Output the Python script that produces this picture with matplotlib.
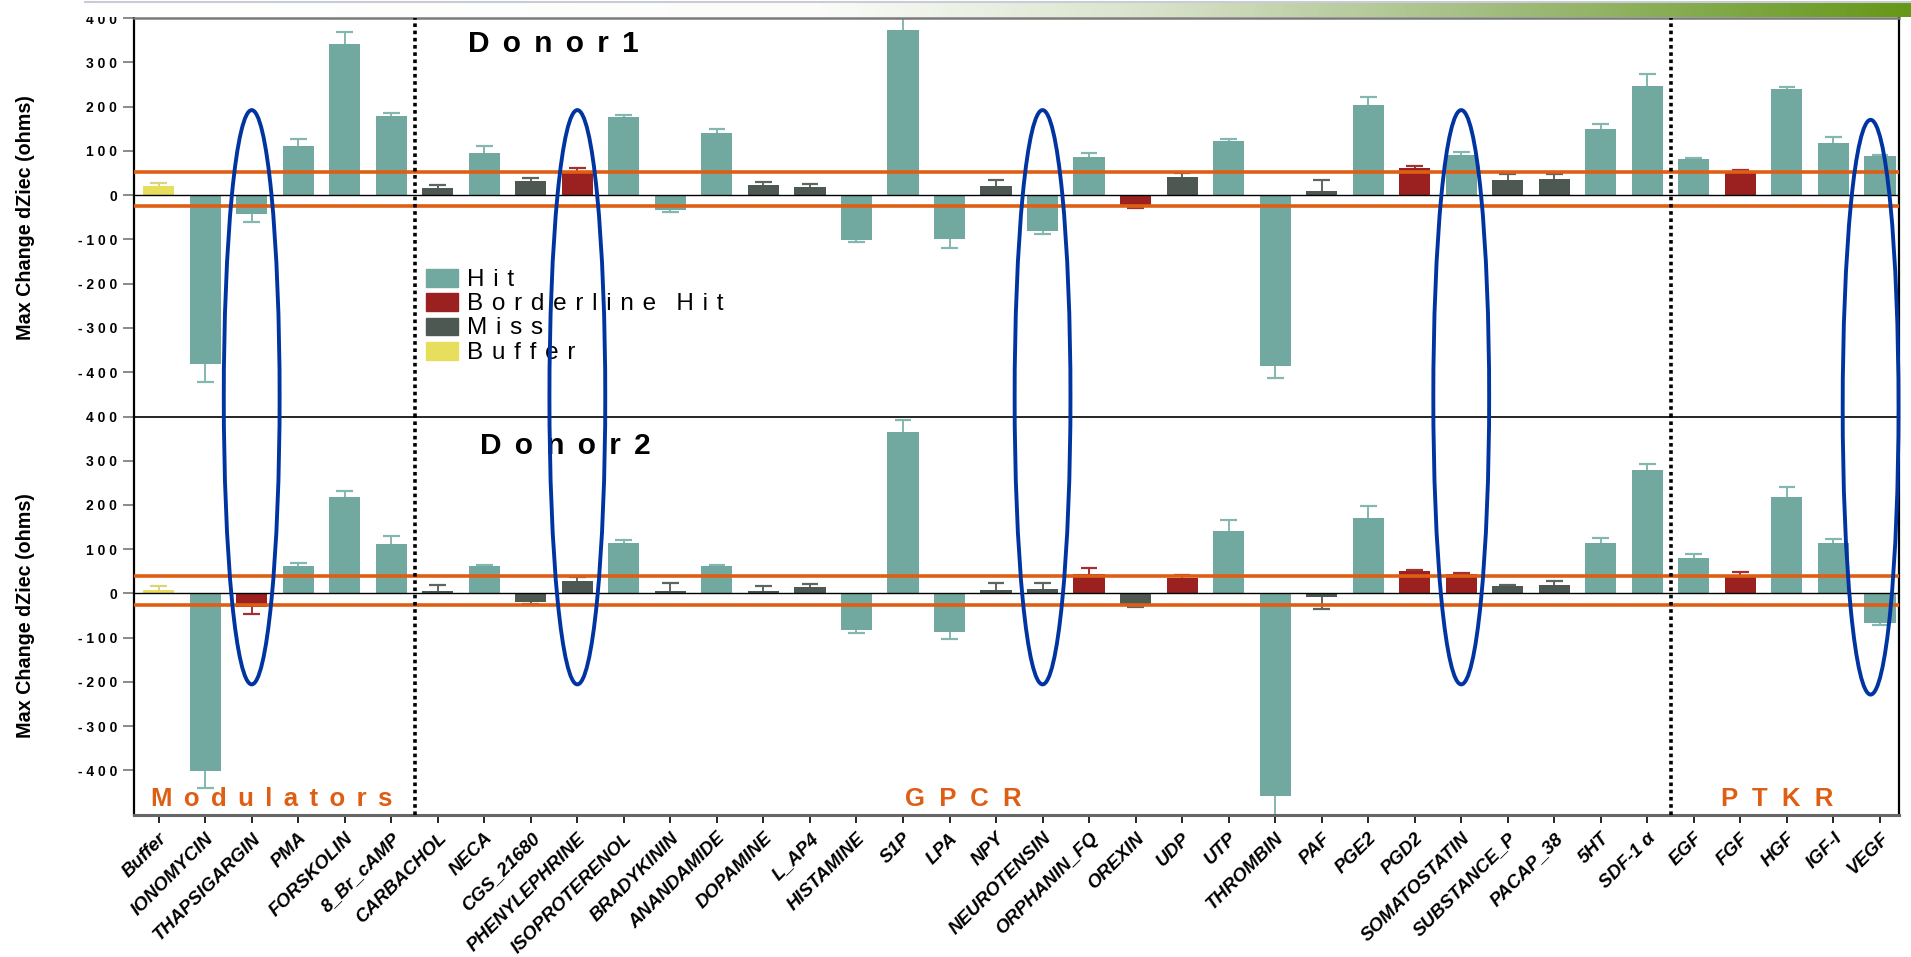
import matplotlib
matplotlib.use('Agg')
import matplotlib.pyplot as plt
import numpy as np
from matplotlib.patches import Ellipse, Rectangle
from matplotlib.colors import LinearSegmentedColormap

plt.rcParams['font.family'] = ['Liberation Sans', 'DejaVu Sans']

# ---- data ----
categories = ['Buffer', 'IONOMYCIN', 'THAPSIGARGIN', 'PMA', 'FORSKOLIN', '8_Br_cAMP',
              'CARBACHOL', 'NECA', 'CGS_21680', 'PHENYLEPHRINE', 'ISOPROTERENOL',
              'BRADYKININ', 'ANANDAMIDE', 'DOPAMINE', 'L_AP4', 'HISTAMINE', 'S1P', 'LPA',
              'NPY', 'NEUROTENSIN', 'ORPHANIN_FQ', 'OREXIN', 'UDP', 'UTP', 'THROMBIN',
              'PAF', 'PGE2', 'PGD2', 'SOMATOSTATIN', 'SUBSTANCE_P', 'PACAP_38', '5HT',
              'SDF-1 \u03b1', 'EGF', 'FGF', 'HGF', 'IGF-I', 'VEGF']

# donor 1
d1_vals = [20, -381, -42, 112, 341, 178, 15, 96, 32, 51, 176,
           -33, 140, 23, 18, -101, 373, -99,
           20, -81, 86, -22, 41, 122, -386,
           9, 203, 61, 90, 34, 36, 149,
           246, 81, 51, 240, 117, 88]
d1_errs = [8, 42, 19, 14, 27, 8, 8, 15, 7, 11, 6,
           5, 10, 7, 6, 4, 26, 21,
           13, 7, 10, 8, 9, 5, 27,
           26, 18, 4, 8, 13, 12, 11,
           27, 3, 5, 4, 14, 2]
d1_class = ['U', 'H', 'H', 'H', 'H', 'H', 'M', 'H', 'M', 'B', 'H',
            'H', 'H', 'M', 'M', 'H', 'H', 'H',
            'M', 'H', 'H', 'B', 'M', 'H', 'H',
            'M', 'H', 'B', 'H', 'M', 'M', 'H',
            'H', 'H', 'B', 'H', 'H', 'H']

# donor 2
d2_vals = [8, -401, -31, 61, 218, 111, 5, 61, -20, 27, 115,
           6, 61, 5, 14, -83, 364, -87,
           7, 11, 43, -25, 34, 140, -458,
           -8, 170, 50, 43, 16, 20, 115,
           278, 81, 40, 219, 115, -67]
d2_errs = [8, 40, 16, 8, 14, 19, 13, 4, 5, 10, 6,
           17, 4, 12, 8, 6, 28, 16,
           16, 12, 15, 5, 7, 26, 48,
           27, 28, 4, 4, 4, 8, 11,
           15, 9, 8, 22, 8, 4]
d2_class = ['U', 'H', 'B', 'H', 'H', 'H', 'M', 'H', 'M', 'M', 'H',
            'M', 'H', 'M', 'M', 'H', 'H', 'H',
            'M', 'M', 'B', 'M', 'B', 'H', 'H',
            'M', 'H', 'B', 'B', 'M', 'M', 'H',
            'H', 'H', 'B', 'H', 'H', 'H']

d1_thresh = [52, -25]
d2_thresh = [39, -27]

legend_labels = ['Hit', 'Borderline Hit', 'Miss', 'Buffer']
legend_keys = ['H', 'B', 'M', 'U']

group_names = ['Modulators', 'GPCR', 'PTKR']
group_pos = [2.44, 17.3, 34.8]
group_breaks = [5.5, 32.5]

# circled compounds (x centre, top on donor 1 scale, bottom on donor 2 scale)
circ_x = [2, 9, 19, 28, 36.8]
circ_top = [192, 192, 192, 192, 170]
circ_bot = [-205, -205, -205, -205, -228]

yticks = [-400, -300, -200, -100, 0, 100, 200, 300, 400]

bar_col = {'H': '#71a89f', 'B': '#9b2121', 'M': '#4e5853', 'U': '#e6de5c'}
err_col = {'H': '#84b7af', 'B': '#a52e2e', 'M': '#5d6561', 'U': '#ddd47c'}
orange = '#de5f14'
blue = '#0034a0'

W, H = 1911, 957
fig = plt.figure(figsize=(W / 100, H / 100), dpi=100)
ax1 = fig.add_axes([134 / W, (H - 416.5) / H, 1765 / W, 398.5 / H])
ax2 = fig.add_axes([134 / W, (H - 814.5) / H, 1765 / W, 398 / H])

x = np.arange(len(categories))
cap_half = 0.18


def spaced(v, sep=' '):
    # the original letter-spaces most of its texts
    return sep.join(str(v))


def draw_panel(ax, vals, errs, cls, thresh):
    for i in x:
        v = vals[i]
        c = cls[i]
        ax.bar(i, v, width=0.67, color=bar_col[c], zorder=2)
        end = v + errs[i] if v >= 0 else v - errs[i]
        ax.vlines(i, v, end, color=err_col[c], lw=1.4, zorder=1)
        ax.hlines(end, i - cap_half, i + cap_half, color=err_col[c], lw=1.6, zorder=1)
    ax.axhline(0, color='black', lw=1.0, zorder=3)
    for t in thresh:
        ax.axhline(t, color=orange, lw=2.6, zorder=4)
    for b in group_breaks:
        ax.axvline(b, color='black', lw=2.6, ls=(0, (1, 1)), zorder=4)
    ax.set_xlim(-0.53, 37.41)
    ax.set_ylim(-500, 400)
    ax.set_yticks(yticks)
    ax.set_yticklabels([spaced(t) for t in yticks], fontsize=10, fontweight='bold')
    ax.tick_params(axis='y', direction='out', length=8, width=1.2, color='#777777', pad=4)
    ax.set_ylabel('Max Change dZiec (ohms)', fontsize=14.2, fontweight='bold')
    ax.yaxis.set_label_coords(-0.056, 0.5)
    ax.spines['left'].set_linewidth(1.6)
    ax.spines['right'].set_linewidth(1.6)


draw_panel(ax1, d1_vals, d1_errs, d1_class, d1_thresh)
draw_panel(ax2, d2_vals, d2_errs, d2_class, d2_thresh)

ax1.tick_params(axis='x', bottom=False, labelbottom=False)
ax1.spines['top'].set_color('#7a7a7a')
ax1.spines['top'].set_linewidth(1.8)
ax1.spines['bottom'].set_visible(False)
ax2.spines['top'].set_linewidth(1.2)
ax2.spines['bottom'].set_color('#666666')
ax2.spines['bottom'].set_linewidth(2.2)

ax2.set_xticks(x)
ax2.set_xticklabels(categories, rotation=45, ha='right', rotation_mode='anchor',
                    fontsize=13.5, fontweight='bold', fontstyle='italic')
ax2.tick_params(axis='x', direction='out', length=6, width=1.2, pad=5)

# donor titles
wide = '  '
mid = ' \u200a\u200a'
ax1.text(6.65, 341, spaced('Donor 1'.replace(' ', ''), mid), fontsize=21.5,
         fontweight='bold', va='center')
ax2.text(6.91, 334, spaced('Donor 2'.replace(' ', ''), mid), fontsize=21.5,
         fontweight='bold', va='center')

# group labels
for name, p in zip(group_names, group_pos):
    sep = mid if len(name) > 4 else wide
    ax2.text(p, -465, spaced(name, sep), ha='center', va='center', color=orange,
             fontsize=18.5, fontweight='bold')

# legend, drawn by hand so the rows sit as tight as in the original
ax_h = 398.5
for k, (key, lab) in enumerate(zip(legend_keys, legend_labels)):
    top = 269 + 24.4 * k
    y0 = (416.5 - top - 17.5) / ax_h
    ax1.add_patch(Rectangle((292 / 1765, y0), 32 / 1765, 17.5 / ax_h,
                            transform=ax1.transAxes, color=bar_col[key], zorder=5))
    words = [spaced(w, ' \u200a') for w in lab.split(' ')]
    ax1.text(333 / 1765, y0 + 1 / ax_h, '   '.join(words), transform=ax1.transAxes,
             fontsize=17.5, va='baseline', ha='left', zorder=5)

# ellipses spanning both panels (drawn in donor-1 data coords)
span = ax1.get_ylim()[1] - ax1.get_ylim()[0]
for cx, t, b in zip(circ_x, circ_top, circ_bot):
    bb = b - span
    e = Ellipse((cx, (t + bb) / 2), 1.2, t - bb, transform=ax1.transData,
                fill=False, ec=blue, lw=2.8, zorder=10)
    fig.add_artist(e)

# header gradient band
band = fig.add_axes([85 / W, (H - 17) / H, (W - 85) / W, 15 / H])
cmap = LinearSegmentedColormap.from_list('hdr', [(0, '#ffffff'), (0.4, '#fbfcfa'),
                                                (0.58, '#d9e3cc'), (0.78, '#a0bb7c'),
                                                (1.0, '#659818')])
band.imshow(np.linspace(0, 1, 256)[None, :], aspect='auto', cmap=cmap, extent=[0, 1, 0, 1])
band.set_axis_off()
fig.add_artist(plt.Line2D([85 / W, 1], [(H - 1.5) / H] * 2, color='#c8ccd6', lw=1.5))

fig.savefig('out.png', dpi=100)
